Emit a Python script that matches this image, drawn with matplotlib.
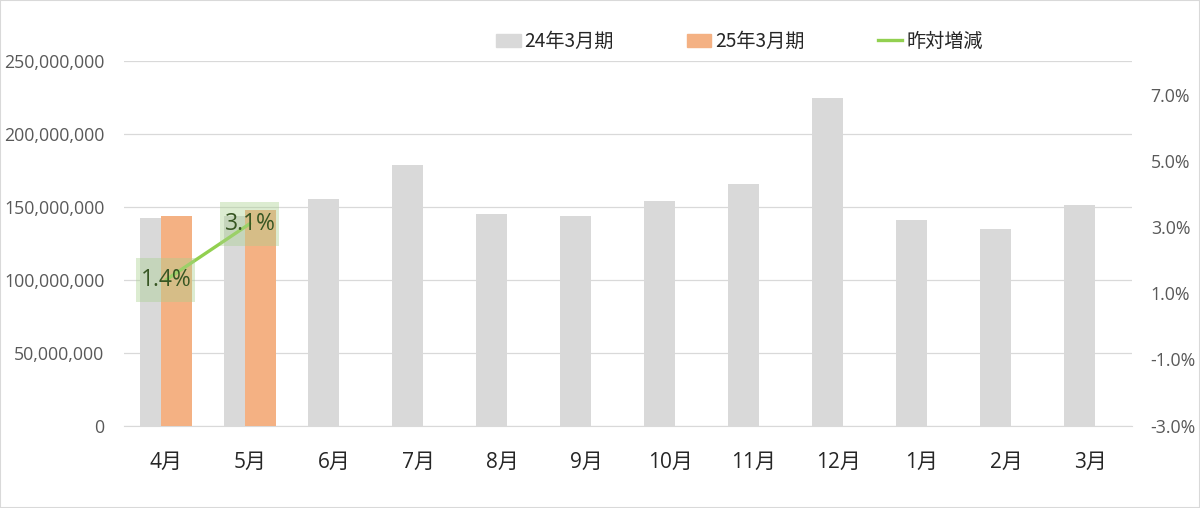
import matplotlib
matplotlib.use("Agg")
import matplotlib.pyplot as plt
import matplotlib.transforms as mtransforms
import numpy as np
from matplotlib.patches import Patch, Rectangle
from matplotlib.lines import Line2D
from matplotlib.ticker import FuncFormatter

plt.rcParams['font.family'] = ['Open Sans', 'Noto Sans CJK JP', 'DejaVu Sans']

# データ
months = ['4月', '5月', '6月', '7月', '8月', '9月', '10月', '11月', '12月', '1月', '2月', '3月']
sales_prev = [142.4e6, 143.6e6, 155.3e6, 179.1e6, 145.5e6, 144.2e6,
              154.2e6, 166.1e6, 224.8e6, 140.8e6, 134.8e6, 151.5e6]
sales_curr = [144.2e6, 148.1e6]
yoy = [0.014, 0.031]
yoy_labels = ['1.4%', '3.1%']

c_prev = '#D9D9D9'
c_curr = '#F4B183'
c_line = '#92D050'

fig = plt.figure(figsize=(12, 5.08), dpi=100)
ax = fig.add_axes([0.1033, 0.1624, 0.84, 0.7166])
ax2 = ax.twinx()

x = np.arange(len(months))
w = 0.363
off = 0.127
ax.bar(x - off, sales_prev, w, color=c_prev, zorder=2)
ax.bar(x[:len(sales_curr)] + off, sales_curr, w, color=c_curr, zorder=3)

ax.set_xlim(-0.5, len(months) - 0.5)
ax.set_ylim(0, 250e6)
ax.set_yticks(np.arange(0, 250e6 + 1, 50e6))
ax.yaxis.set_major_formatter(FuncFormatter(lambda v, p: f'{v:,.0f}'))
ax.grid(axis='y', color='#D9D9D9', lw=0.9)
ax.set_axisbelow(True)
ax.set_xticks(x)
ax.set_xticklabels(months, fontsize=15, color='#262626')
ax.tick_params(axis='x', length=0, pad=19)
ax.tick_params(axis='y', length=0, pad=14, labelsize=12.8, labelcolor='#595959')
for s in ['top', 'left', 'right']:
    ax.spines[s].set_visible(False)
ax.spines['bottom'].set_color('#D9D9D9')

# 昨対増減
ax2.plot(x[:len(yoy)], yoy, color=c_line, lw=2.4, solid_capstyle='round', zorder=4)
ax2.set_ylim(-0.03, 0.08)
ax2.set_yticks([-0.03, -0.01, 0.01, 0.03, 0.05, 0.07])
ax2.yaxis.set_major_formatter(FuncFormatter(lambda v, p: f'{v*100:.1f}%'))
ax2.tick_params(axis='y', length=0, pad=13.5, labelsize=12.8, labelcolor='#595959')
for s in ax2.spines.values():
    s.set_visible(False)
for xi, v, lab in zip(x, yoy, yoy_labels):
    trans = fig.dpi_scale_trans + mtransforms.ScaledTranslation(xi, v, ax2.transData)
    ax2.add_patch(Rectangle((-0.295, -0.22), 0.59, 0.44, transform=trans,
                            fc='#A9D18E', ec='none', alpha=0.4, zorder=5))
    ax2.text(xi, v, lab, ha='center', va='center', fontsize=16.5, color='#375623', zorder=6)

handles = [Patch(color=c_prev), Patch(color=c_curr), Line2D([], [], color=c_line, lw=2.4)]
fig.legend(handles, ['24年3月期', '25年3月期', '昨対増減'], loc='center',
           bbox_to_anchor=(0.616, 0.918), ncol=3, frameon=False,
           prop={'family': ['Noto Sans CJK JP'], 'size': 13.8},
           handlelength=1.3, handletextpad=0.2, columnspacing=3.8, labelcolor='#262626')

fig.patches.append(Rectangle((0, 0), 1, 1, transform=fig.transFigure, fill=False,
                             ec='#D9D9D9', lw=1.5))

fig.savefig('out.png', dpi=100)
